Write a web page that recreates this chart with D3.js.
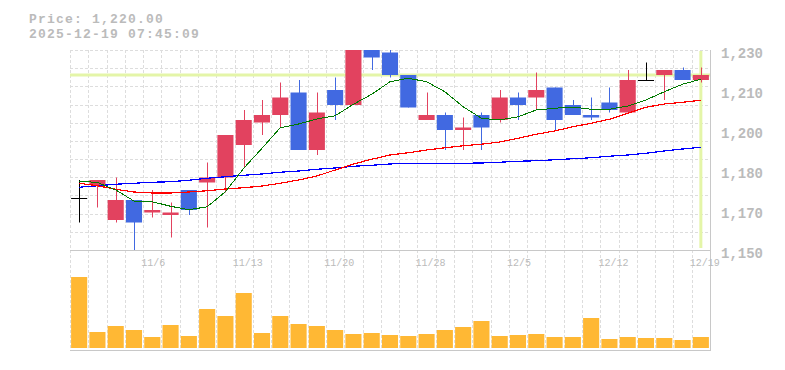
<!DOCTYPE html>
<html>
<head>
<meta charset="utf-8">
<script src="https://cdn.jsdelivr.net/npm/d3@7"></script>
<style>
  body { margin: 0; background: #fff; }
  text { font-family: "Liberation Mono", "DejaVu Sans Mono", monospace; fill: #bbb; }
  .grid line { stroke: #ddd; stroke-dasharray: 3,2; }
  .frame { stroke: #c8c8c8; }
</style>
</head>
<body>
<div id="chart"></div>
<script>
// trading days shown on the chart
let dates = ["10/30","10/31","11/4","11/5","11/6","11/7","11/10","11/11","11/12","11/13",
  "11/14","11/17","11/18","11/19","11/20","11/21","11/25","11/26","11/27","11/28",
  "12/1","12/2","12/3","12/4","12/5","12/8","12/9","12/10","12/11","12/12",
  "12/15","12/16","12/17","12/18","12/19"];

let opens  = [1171,1176,1162,1170,1165,1164,1174,1177,1179,1192,1201,1204,1213,1190,1214,1208,1231,1229,1220,1202,1204,1198,1204,1202,1211,1211,1215,1208,1204,1209,1205,1218,1220,1222,1218];
let closes = [1171,1178,1170,1161,1166,1165,1166,1179,1196,1202,1204,1211,1190,1205,1208,1231,1227,1220,1207,1204,1198,1199,1199,1211,1208,1214,1202,1204,1203,1206,1218,1218,1222,1218,1220];
let highs  = [1178,1178,1179,1170,1174,1169,1174,1185,1196,1206,1210,1217,1218,1213,1219,1233,1233,1231,1220,1213,1205,1203,1205,1214,1213,1221,1215,1210,1211,1215,1222,1225,1222,1223,1223];
let lows   = [1161,1167,1161,1150,1163,1155,1164,1159,1173,1183,1196,1199,1190,1188,1202,1208,1222,1219,1207,1202,1190,1190,1190,1201,1202,1206,1198,1204,1202,1205,1205,1218,1210,1218,1217];

// volume, hundreds of shares
let volumes = [710,160,220,180,110,230,120,390,320,550,150,320,240,220,180,140,150,130,120,140,180,210,270,120,130,140,110,110,300,90,110,100,100,80,110];

// moving averages (5, 25, 75 day)
let ma5  = [1177.6,1177,1174,1169.6,1169.3,1167.5,1166.1,1167.3,1173.3,1182.7,1190.7,1198.9,1200.4,1202.4,1203.7,1208.3,1212.3,1217.3,1218.7,1217.3,1213.3,1207.3,1202.7,1202,1203.3,1206,1206.7,1207.2,1206.3,1206.3,1207.6,1210,1213.3,1216.3,1218.3];
let ma25 = [1176.7,1175.7,1174.3,1173.2,1172.8,1172.8,1173.2,1173.7,1174.4,1174.9,1175.6,1176.7,1178,1179.6,1182,1184.4,1186.3,1188,1188.9,1190,1190.9,1191.7,1192.3,1193.2,1194.7,1196.3,1197.6,1199.3,1200.7,1202.3,1204.7,1207.1,1208.4,1209.1,1209.9];
let ma75 = [1175.1,1175.7,1176.3,1176.7,1177.1,1177.3,1177.9,1178.7,1179.3,1179.9,1180.4,1181.1,1181.6,1182.3,1182.8,1183.5,1183.9,1184.4,1184.7,1184.7,1184.7,1184.7,1184.8,1185.1,1185.5,1185.7,1186.1,1186.5,1186.9,1187.5,1188,1188.7,1189.6,1190.4,1191.1];

let xTickLabels = ["11/6","11/13","11/20","11/28","12/5","12/12","12/19"];
let yTickValues = [1150, 1166, 1182, 1198, 1214, 1230];
let yTickLabels = ["1,150","1,170","1,180","1,200","1,210","1,230"];

let lastPrice = 1220;
let titleLines = ["Price: 1,220.00", "2025-12-19 07:45:09"];

// dimensions
let width = 785, height = 370;
let left = 70, right = 710;
let priceTop = 50, priceBottom = 250;
let volTop = 268, volBottom = 348, volAxis = 350;

let svg = d3.select("#chart").append("svg")
  .attr("width", width)
  .attr("height", height);

let x = d3.scaleBand()
  .domain(dates)
  .range([left, right])
  .paddingInner(0.12)
  .paddingOuter(0.06);
let step = x.step();
let cx = function(d) { return x(d) + x.bandwidth() / 2; };

let y = d3.scaleLinear().domain([1150, 1230]).range([priceBottom, priceTop]);
let yVol = d3.scaleLinear().domain([0, 800]).range([volBottom, volTop]);

let px = function(v) { return Math.round(v) + 0.5; };

// grid: square cells, one column per day
let grid = svg.append("g").attr("class", "grid");
let nRows = 11;
grid.selectAll(".h")
  .data(d3.range(nRows))
  .enter().append("line")
  .attr("x1", left).attr("x2", right)
  .attr("y1", function(k) { return px(priceTop + k * (priceBottom - priceTop) / nRows); })
  .attr("y2", function(k) { return px(priceTop + k * (priceBottom - priceTop) / nRows); });
grid.selectAll(".v")
  .data(d3.range(dates.length))
  .enter().append("line")
  .attr("x1", function(k) { return px(left + k * step); })
  .attr("x2", function(k) { return px(left + k * step); })
  .attr("y1", priceTop).attr("y2", volAxis);

// frame lines
svg.append("line").attr("class", "frame")
  .attr("x1", left).attr("x2", right + 1).attr("y1", px(priceBottom)).attr("y2", px(priceBottom));
svg.append("line").attr("class", "frame")
  .attr("x1", left).attr("x2", right + 1).attr("y1", px(volAxis)).attr("y2", px(volAxis));
svg.append("line").attr("class", "frame")
  .attr("x1", px(right)).attr("x2", px(right)).attr("y1", priceTop).attr("y2", volAxis + 1);

// highlight of the latest price
svg.append("line")
  .attr("x1", left).attr("x2", right)
  .attr("y1", y(lastPrice)).attr("y2", y(lastPrice))
  .style("stroke", "#e4f5a8").style("stroke-width", 3);
svg.append("line")
  .attr("x1", cx(dates[dates.length - 1])).attr("x2", cx(dates[dates.length - 1]))
  .attr("y1", priceTop + 1).attr("y2", priceBottom - 2)
  .style("stroke", "#e4f5a8").style("stroke-width", 3);

svg.append("clipPath").attr("id", "plotClip")
  .append("rect").attr("x", left).attr("y", priceTop)
  .attr("width", right - left).attr("height", priceBottom - priceTop);

let plot = svg.append("g").attr("clip-path", "url(#plotClip)");

let candles = dates.map(function(d, i) {
  return { date: d, o: opens[i], c: closes[i], h: highs[i], l: lows[i] };
});
let candleColor = function(d) {
  if (d.c > d.o) return "#e2425f";
  if (d.c < d.o) return "#4169e1";
  return "#000";
};

// wicks
plot.selectAll(".wick")
  .data(candles)
  .enter().append("line")
  .attr("class", "wick")
  .attr("x1", function(d) { return px(cx(d.date)); })
  .attr("x2", function(d) { return px(cx(d.date)); })
  .attr("y1", function(d) { return y(d.h); })
  .attr("y2", function(d) { return y(d.l); })
  .style("stroke", candleColor);

// bodies
plot.selectAll(".body")
  .data(candles.filter(function(d) { return d.o !== d.c; }))
  .enter().append("rect")
  .attr("class", "body")
  .attr("x", function(d) { return x(d.date); })
  .attr("width", x.bandwidth())
  .attr("y", function(d) { return y(Math.max(d.o, d.c)); })
  .attr("height", function(d) { return Math.abs(y(d.o) - y(d.c)); })
  .style("fill", candleColor);

// doji bars
plot.selectAll(".doji")
  .data(candles.filter(function(d) { return d.o === d.c; }))
  .enter().append("line")
  .attr("x1", function(d) { return x(d.date); })
  .attr("x2", function(d) { return x(d.date) + x.bandwidth(); })
  .attr("y1", function(d) { return px(y(d.o)); })
  .attr("y2", function(d) { return px(y(d.o)); })
  .style("stroke", "#000");

// moving averages, drawn aliased like the original
let maLine = d3.line()
  .x(function(d, i) { return cx(dates[i]); })
  .y(function(d) { return y(d); });
[[ma75, "#0000ff", 1.2], [ma25, "#ff0000", 1.2], [ma5, "#007a00", 1]].forEach(function(m) {
  plot.append("path")
    .datum(m[0])
    .attr("d", maLine)
    .style("fill", "none")
    .style("stroke", m[1])
    .style("stroke-width", m[2])
    .style("shape-rendering", "crispEdges");
});

// volume bars
svg.selectAll(".vol")
  .data(volumes)
  .enter().append("rect")
  .attr("x", function(d, i) { return x(dates[i]); })
  .attr("width", x.bandwidth())
  .attr("y", function(d) { return yVol(d); })
  .attr("height", function(d) { return volBottom - yVol(d); })
  .style("fill", "#ffb834");

// date labels
svg.selectAll(".xlabel")
  .data(xTickLabels)
  .enter().append("text")
  .attr("x", function(d) { return cx(d) - 11; })
  .attr("y", 266)
  .style("font-size", "10px")
  .text(function(d) { return d; });

// price labels
svg.selectAll(".ylabel")
  .data(yTickValues)
  .enter().append("text")
  .attr("x", 721)
  .attr("y", function(d) { return y(d) + 7.5; })
  .style("font-size", "14px")
  .style("font-weight", "bold")
  .text(function(d, i) { return yTickLabels[i]; });

// header
svg.selectAll(".title")
  .data(titleLines)
  .enter().append("text")
  .attr("x", 29)
  .attr("y", function(d, i) { return 22.5 + i * 15; })
  .style("font-size", "13px")
  .style("font-weight", "bold")
  .style("letter-spacing", "1.2px")
  .text(function(d) { return d; });
</script>
</body>
</html>
